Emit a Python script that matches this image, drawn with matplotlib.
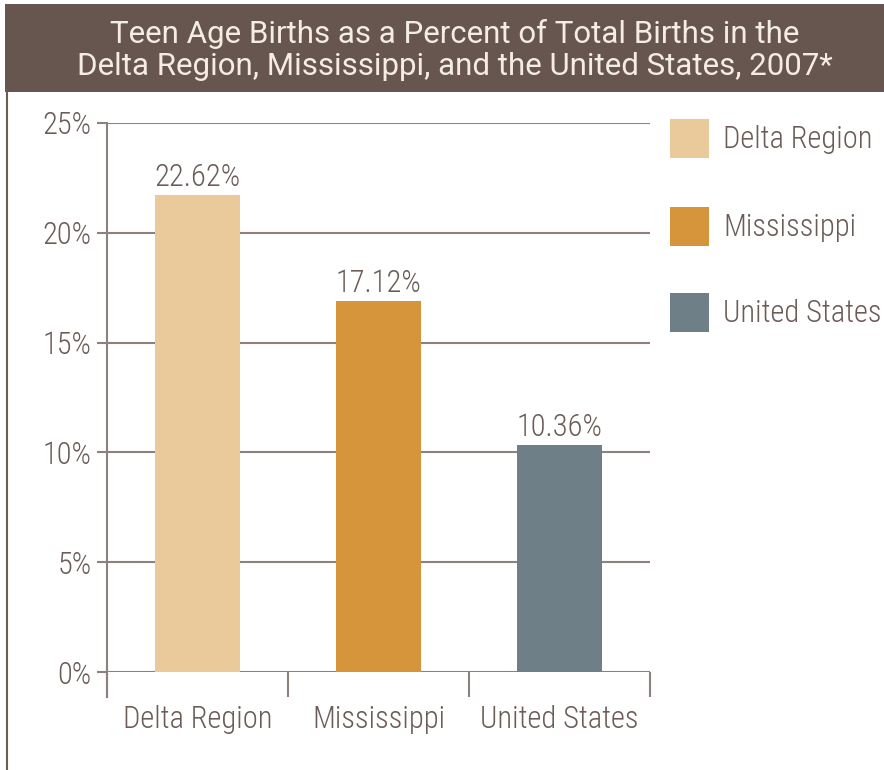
import matplotlib
matplotlib.use('Agg')
import matplotlib.pyplot as plt
from matplotlib.patches import Rectangle
from matplotlib import font_manager

# data
categories = ['Delta Region', 'Mississippi', 'United States']
bar_heights = [21.72, 16.9, 10.34]   # heights as drawn
bar_labels = ['22.62%', '17.12%', '10.36%']
yticks = [0, 5, 10, 15, 20, 25]
title = ('Teen Age Births as a Percent of Total Births in the\n'
         'Delta Region, Mississippi, and the United States, 2007*')

colors = ['#eac99b', '#d6953a', '#6f7f88']
text_c = '#6b5c57'
grid_c = '#8e807c'
band_c = '#66564f'

names = set(f.name for f in font_manager.fontManager.ttflist)
cond = [n for n in ['Roboto Condensed', 'Archivo Narrow', 'PT Sans Narrow',
                    'Barlow Semi Condensed', 'Encode Sans Condensed',
                    'Asap Condensed', 'Liberation Sans Narrow'] if n in names][:1]
plain = [n for n in ['Roboto', 'Liberation Sans'] if n in names][:1]
plt.rcParams['font.family'] = cond + ['DejaVu Sans']

W, H = 884, 770
fig = plt.figure(figsize=(W / 100, H / 100), dpi=100)

# title band
fig.patches.append(Rectangle((5 / W, 1 - 92 / H), 1, 88 / H, transform=fig.transFigure,
                             facecolor=band_c, edgecolor='none'))
fig.text(455 / W, 1 - 50 / H, title, ha='center', va='center', color='#f6ede2',
         fontsize=22.5, linespacing=1.16, family=plain + ['DejaVu Sans'])
# left frame line
fig.add_artist(plt.Line2D([7 / W, 7 / W], [0, 1 - 92 / H], transform=fig.transFigure,
                          color=text_c, lw=1.5))

ax = fig.add_axes([107 / W, 1 - 672 / H, 543 / W, 549 / H])
xs = [0.5, 1.5, 2.5]
ax.bar(xs, bar_heights, width=0.47, color=colors, zorder=3)
for x, h, lab in zip(xs, bar_heights, bar_labels):
    ax.text(x, h + 0.15, lab, ha='center', va='bottom', fontsize=22, color=text_c,
            fontweight='light')

ax.set_xlim(0, 3)
ax.set_ylim(0, 25)
ax.set_yticks(yticks)
ax.set_yticklabels([f'{v}%' for v in yticks], fontweight='light')
ax.yaxis.grid(True, color=grid_c, lw=1.5, zorder=1)
ax.set_xticks([0, 1, 2, 3])
ax.set_xticklabels([])
ax.set_xticks(xs, minor=True)
ax.set_xticklabels(categories, minor=True, fontweight='light')
ax.tick_params(axis='x', which='major', length=18, width=1.5, color=grid_c)
ax.tick_params(axis='x', which='minor', length=0, pad=24, labelsize=22, labelcolor=text_c)
ax.tick_params(axis='y', length=7, width=1.5, color=grid_c, pad=4, labelsize=22,
               labelcolor=text_c)
for s in ['top', 'right', 'bottom']:
    ax.spines[s].set_visible(False)
ax.spines['left'].set_color(grid_c)
ax.spines['left'].set_linewidth(1.5)
ax.spines['left'].set_bounds(-25 / 549 * 25, 25)
ax.spines['left'].set_clip_on(False)

# legend
leg_y = [119, 207, 293]
for c, name, y in zip(colors, categories, leg_y):
    fig.patches.append(Rectangle((670 / W, 1 - (y + 39) / H), 39 / W, 39 / H,
                                 transform=fig.transFigure, facecolor=c, edgecolor='none'))
    fig.text(723 / W, 1 - (y + 20) / H, name, ha='left', va='center', fontsize=22,
             color=text_c, fontweight='light')

fig.savefig('out.png', dpi=100)
